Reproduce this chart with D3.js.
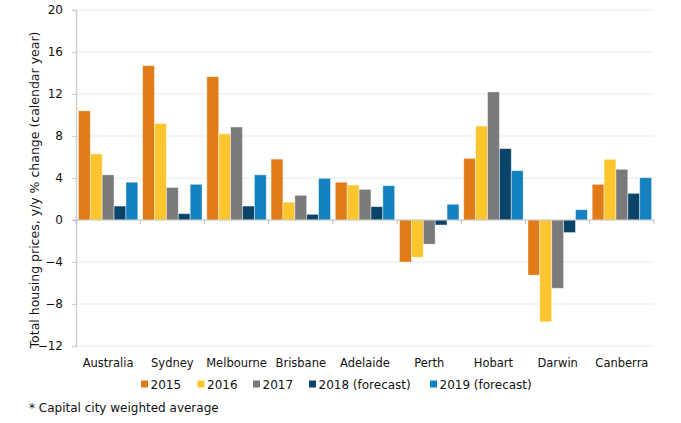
<!DOCTYPE html>
<html>
<head>
<meta charset="utf-8">
<script src="https://cdn.jsdelivr.net/npm/d3@7/dist/d3.min.js"></script>
<style>
  html, body { margin: 0; padding: 0; background: #fff; }
  svg { display: block; }
  text { font-family: "DejaVu Sans", Verdana, sans-serif; fill: #111; }
</style>
</head>
<body>
<svg id="chart" width="681" height="423"></svg>
<script>
const categories = ["Australia", "Sydney", "Melbourne", "Brisbane", "Adelaide", "Perth", "Hobart", "Darwin", "Canberra"];
const seriesNames = ["2015", "2016", "2017", "2018 (forecast)", "2019 (forecast)"];
const seriesColors = ["#E07B17", "#FFC52E", "#7A7A7A", "#0B4469", "#1380C0"];
const v2015 = [10.4, 14.7, 13.65, 5.8, 3.6, -4.0, 5.87, -5.25, 3.4];
const v2016 = [6.3, 9.2, 8.2, 1.7, 3.33, -3.55, 8.95, -9.7, 5.78];
const v2017 = [4.3, 3.1, 8.86, 2.35, 2.92, -2.3, 12.2, -6.5, 4.83];
const v2018 = [1.33, 0.6, 1.33, 0.54, 1.27, -0.48, 6.8, -1.2, 2.54];
const v2019 = [3.6, 3.4, 4.3, 3.97, 3.27, 1.5, 4.7, 0.98, 4.03];
const yTicks = [-12, -8, -4, 0, 4, 8, 12, 16, 20];
const yTitle = "Total housing prices, y/y % change (calendar year)";
const footnote = "* Capital city weighted average";

const seriesValues = [v2015, v2016, v2017, v2018, v2019];

const svg = d3.select("#chart");
const mLeft = 76, mRight = 654, mTop = 10, mBottom = 346;

const x0 = d3.scaleBand().domain(categories).range([mLeft, mRight]).padding(0);
const x1 = d3.scaleBand().domain(seriesNames).range([2.4, x0.bandwidth() - 2.4]).padding(0);
const y = d3.scaleLinear().domain([-12, 20]).range([mBottom, mTop]);

// gridlines
svg.append("g").selectAll("line").data(yTicks.filter(t => t !== 0)).join("line")
  .attr("x1", mLeft).attr("x2", mRight)
  .attr("y1", d => y(d)).attr("y2", d => y(d))
  .attr("stroke", "#E4EBEE").attr("stroke-width", 1);

// y axis
const yAxis = d3.axisLeft(y).tickValues(yTicks).tickSize(4).tickPadding(9);
const gy = svg.append("g").attr("transform", `translate(${mLeft},0)`).call(yAxis);
gy.select(".domain").attr("stroke", "#CFCFCF").attr("stroke-width", 1.5);
gy.selectAll(".tick line").attr("stroke", "#CFCFCF");
gy.selectAll(".tick text").style("font-family", '"DejaVu Sans", Verdana, sans-serif')
  .style("font-size", "12px").attr("fill", "#111");

// bars
const groups = svg.append("g").selectAll("g").data(categories).join("g")
  .attr("transform", d => `translate(${x0(d)},0)`);
groups.selectAll("rect").data((c, i) => seriesNames.map((s, j) => ({ s, j, v: seriesValues[j][i] })))
  .join("rect")
  .attr("x", d => x1(d.s))
  .attr("width", x1.bandwidth())
  .attr("y", d => y(Math.max(0, d.v)))
  .attr("height", d => Math.abs(y(d.v) - y(0)))
  .attr("fill", d => seriesColors[d.j])
  .attr("stroke", "#ffffff").attr("stroke-opacity", 0.55).attr("stroke-width", 0.8);

// x axis at zero
const gx = svg.append("g").attr("transform", `translate(0,${y(0)})`);
gx.append("line").attr("x1", mLeft - 3).attr("x2", mRight).attr("y1", 0).attr("y2", 0)
  .attr("stroke", "#BDBDBD").attr("stroke-width", 1);
const bounds = categories.map(c => x0(c)).concat([mRight]);
gx.selectAll("line.tk").data(bounds).join("line").attr("class", "tk")
  .attr("x1", d => d).attr("x2", d => d).attr("y1", 0).attr("y2", 4)
  .attr("stroke", "#BDBDBD");

// category labels
svg.append("g").selectAll("text").data(categories).join("text")
  .attr("x", d => x0(d) + x0.bandwidth() / 2)
  .attr("y", 367)
  .attr("text-anchor", "middle")
  .style("font-size", "11.5px")
  .text(d => d);

// y title
svg.append("text")
  .attr("transform", `translate(39,${(mTop + mBottom) / 2 + 12}) rotate(-90)`)
  .attr("text-anchor", "middle")
  .style("font-size", "12.5px")
  .text(yTitle);

// legend
const legendX = [141, 197.5, 253, 309, 430];
const lg = svg.append("g").selectAll("g").data(seriesNames).join("g")
  .attr("transform", (d, i) => `translate(${legendX[i]},384)`);
lg.append("rect").attr("x", 0).attr("y", -3.5).attr("width", 7).attr("height", 7)
  .attr("fill", (d, i) => seriesColors[i]);
lg.append("text").attr("x", 9.5).attr("y", 4.5).style("font-size", "12px").text(d => d);

// footnote
svg.append("text").attr("x", 29).attr("y", 412).style("font-size", "12px").text(footnote);
</script>
</body>
</html>
